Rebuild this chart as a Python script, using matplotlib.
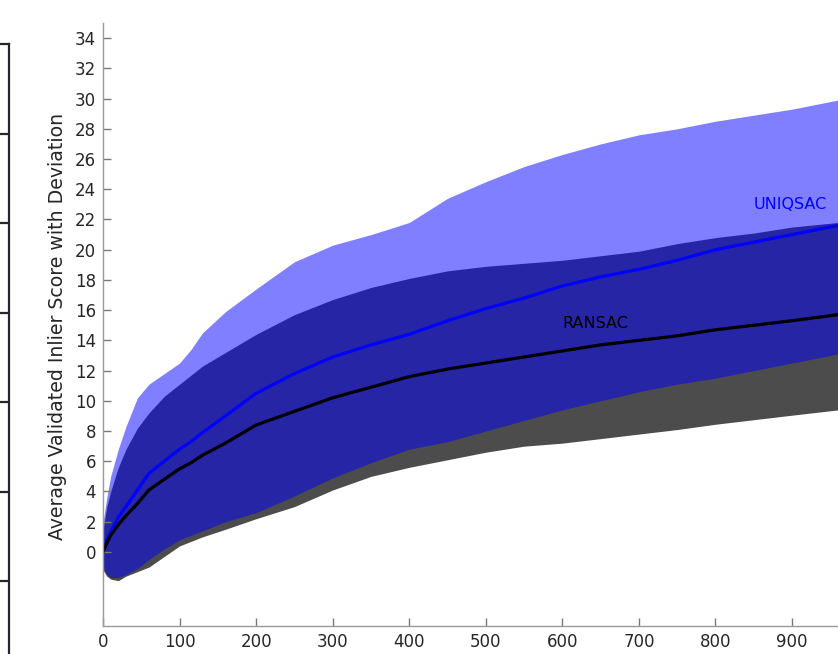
import matplotlib
matplotlib.use("Agg")
import matplotlib.pyplot as plt
import numpy as np

# ---- data ----
iters = [0, 5, 10, 20, 30, 45, 60, 80, 100, 115, 130, 160, 200, 250, 300, 350, 400,
         450, 500, 550, 600, 650, 700, 750, 800, 850, 900, 960, 1000]

ransac_mean = [0, 0.6, 1.1, 1.8, 2.4, 3.2, 4.1, 4.8, 5.5, 5.9, 6.4, 7.2, 8.4, 9.3,
               10.2, 10.9, 11.6, 12.1, 12.5, 12.9, 13.3, 13.7, 14.0, 14.3, 14.7,
               15.0, 15.3, 15.7, 15.9]
ransac_upper = [1.5, 3.0, 4.0, 5.6, 6.8, 8.2, 9.2, 10.3, 11.1, 11.7, 12.3, 13.2,
                14.4, 15.7, 16.7, 17.5, 18.1, 18.6, 18.9, 19.1, 19.3, 19.6, 19.9,
                20.4, 20.8, 21.1, 21.5, 21.8, 22.0]
ransac_lower = [-1.2, -1.6, -1.8, -1.9, -1.6, -1.3, -1.0, -0.3, 0.4, 0.7, 1.0, 1.5,
                2.2, 3.0, 4.1, 5.0, 5.6, 6.1, 6.6, 7.0, 7.2, 7.5, 7.8, 8.1, 8.45,
                8.75, 9.05, 9.4, 9.6]

uniqsac_mean = [0, 0.8, 1.3, 2.3, 3.0, 4.1, 5.2, 6.0, 6.8, 7.3, 7.9, 9.0, 10.5,
                11.8, 12.9, 13.7, 14.4, 15.3, 16.1, 16.8, 17.6, 18.2, 18.7, 19.3,
                20.0, 20.5, 21.0, 21.6, 21.9]
uniqsac_upper = [2.0, 3.6, 5.0, 6.8, 8.3, 10.2, 11.1, 11.8, 12.5, 13.4, 14.5, 15.9,
                 17.4, 19.2, 20.3, 21.0, 21.8, 23.4, 24.5, 25.5, 26.3, 27.0, 27.6,
                 28.0, 28.5, 28.9, 29.3, 29.9, 30.2]
uniqsac_lower = [-1.0, -1.5, -1.7, -1.7, -1.5, -1.1, -0.5, 0.2, 0.8, 1.1, 1.4, 2.0,
                 2.6, 3.7, 4.9, 5.9, 6.8, 7.3, 8.0, 8.7, 9.4, 10.0, 10.6, 11.1,
                 11.5, 12.0, 12.5, 13.1, 13.4]

series_names = ["RANSAC", "UNIQSAC"]
yticks = list(range(0, 35, 2))
xticks = list(range(0, 901, 100))

# ---- figure ----
W, H = 838, 654
fig = plt.figure(figsize=(W / 100, H / 100), dpi=100)

def px_rect(x0, y0, x1, y1):
    # pixel box (top-left origin) -> figure fraction rect
    return [x0 / W, 1 - y1 / H, (x1 - x0) / W, (y1 - y0) / H]

# partial neighbouring axes frame on the far left
ax_l = fig.add_axes(px_rect(-300, 44, 9, 760))
ax_l.set_xlim(0, 1)
ax_l.set_ylim(-716, 0)
for s in ["left", "bottom"]:
    ax_l.spines[s].set_visible(False)
for s in ["right", "top"]:
    ax_l.spines[s].set_color("#26262e")
    ax_l.spines[s].set_linewidth(1.6)
ax_l.yaxis.tick_right()
ax_l.set_yticks([-89.5 * k for k in range(1, 8)])
ax_l.tick_params(axis="y", direction="in", length=7, width=1.6, color="#26262e",
                 labelright=False, labelleft=False)
ax_l.set_xticks([])
ax_l.patch.set_alpha(0)

# main axes
x0_px, x1_px = 103, 103 + 765.6
ax = fig.add_axes(px_rect(x0_px, 23, x1_px, 626))
ax.set_xlim(0, 1000)
ax.set_ylim(-4.9, 35)

ax.fill_between(iters, ransac_lower, ransac_upper, color="black", alpha=0.7,
                linewidth=0)
ax.fill_between(iters, uniqsac_lower, uniqsac_upper, color="blue", alpha=0.5,
                linewidth=0)
ax.plot(iters, uniqsac_mean, color="#0000ff", linewidth=2.3)
ax.plot(iters, ransac_mean, color="black", linewidth=2.3)

ax.text(600, 15.1, series_names[0], color="black", fontsize=11.5, va="center",
        ha="left")
ax.text(850, 23.0, series_names[1], color="#0000ff", fontsize=11.5, va="center",
        ha="left")

for s in ["right", "top"]:
    ax.spines[s].set_visible(False)
for s in ["left", "bottom"]:
    ax.spines[s].set_color("#9a9a9a")
    ax.spines[s].set_linewidth(1.0)
ax.set_yticks(yticks)
ax.set_xticks(xticks)
ax.tick_params(direction="in", length=6, width=1.0, color="#7a7a7a",
               labelsize=12, labelcolor="#262626", pad=5)

fig.text(58 / W, 1 - 326 / H, "Average Validated Inlier Score with Deviation",
         rotation=90, ha="center", va="center", fontsize=13.6, color="#262626")

fig.savefig("out.png", dpi=100)
